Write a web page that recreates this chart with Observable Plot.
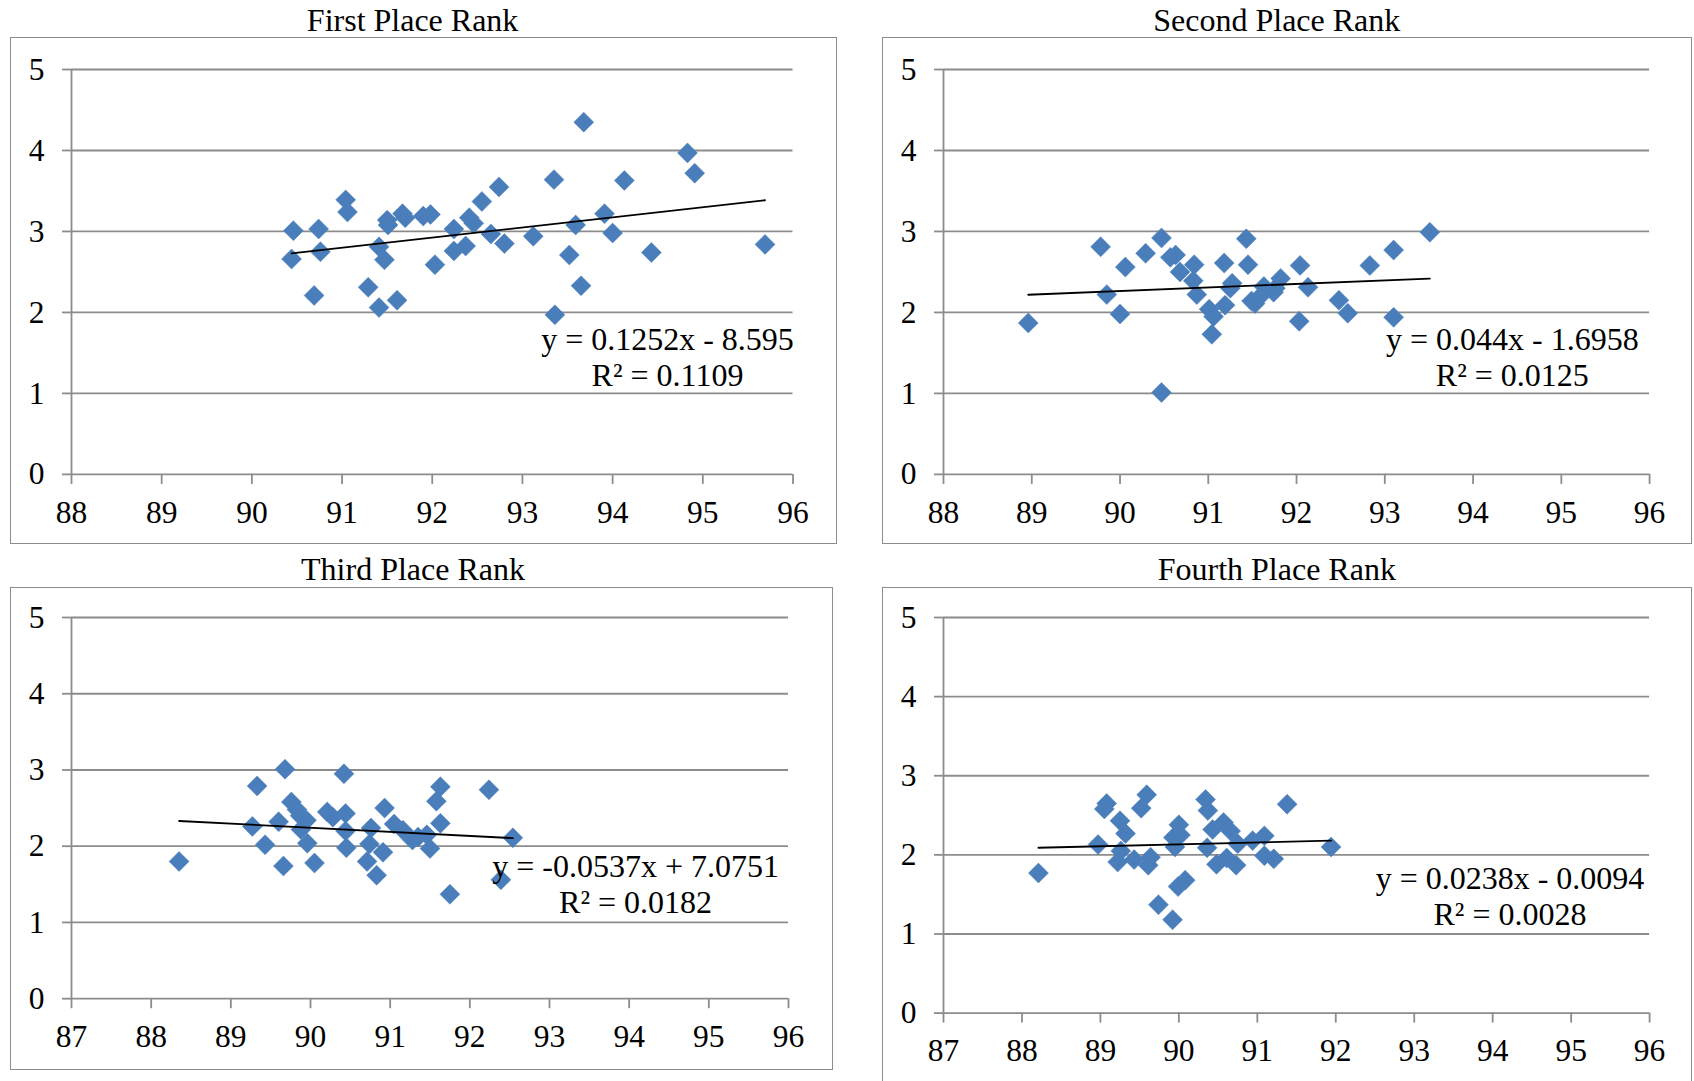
<!DOCTYPE html>
<html><head><meta charset="utf-8">
<script src="https://cdn.jsdelivr.net/npm/d3@7"></script>
<script src="https://cdn.jsdelivr.net/npm/@observablehq/plot@0.6"></script>
<style>
body{margin:0;background:#fff;}
#chart{position:relative;width:1694px;height:1081px;overflow:hidden;background:#fff;font-family:"Liberation Serif","Times New Roman",serif;color:#000;}
.frame{position:absolute;border:1.5px solid #8c8c8c;box-sizing:border-box;}
.txt{position:absolute;white-space:nowrap;font-size:32px;line-height:1;transform:translate(-50%,-50%);}
.panel{position:absolute;}
</style></head><body><div id="chart"></div>
<script>
// ---- data ----
const titles = ["First Place Rank", "Second Place Rank", "Third Place Rank", "Fourth Place Rank"];

const x1 = [90.46, 90.44, 90.69, 90.74, 90.76, 91.04, 91.06, 91.29, 91.41, 91.41, 91.47, 91.50, 91.51, 91.61, 91.67, 91.70, 91.90, 91.98, 92.03, 92.24, 92.24, 92.41, 92.37, 92.46, 92.55, 92.65, 92.74, 92.80, 93.12, 93.35, 93.36, 93.52, 93.59, 93.65, 93.68, 93.91, 94.00, 94.13, 94.43, 94.83, 94.91, 95.69];
const y1 = [3.01, 2.66, 2.21, 3.03, 2.75, 3.39, 3.24, 2.31, 2.81, 2.06, 2.65, 3.14, 3.08, 2.15, 3.22, 3.17, 3.19, 3.21, 2.59, 3.03, 2.76, 3.17, 2.82, 3.10, 3.37, 2.97, 3.55, 2.85, 2.94, 3.64, 1.97, 2.71, 3.08, 2.33, 4.35, 3.22, 2.98, 3.63, 2.74, 3.97, 3.72, 2.84];

const x2 = [88.96, 89.78, 89.85, 90.00, 90.06, 90.29, 90.47, 90.47, 90.57, 90.63, 90.68, 90.84, 90.83, 90.87, 91.01, 91.06, 91.04, 91.18, 91.19, 91.27, 91.25, 91.43, 91.45, 91.49, 91.53, 91.59, 91.63, 91.74, 91.76, 91.82, 92.04, 92.03, 92.13, 92.48, 92.58, 92.83, 93.10, 93.10, 93.51];
const y2 = [1.87, 2.81, 2.22, 1.98, 2.56, 2.73, 2.92, 1.01, 2.68, 2.71, 2.50, 2.59, 2.39, 2.22, 2.04, 1.95, 1.73, 2.61, 2.09, 2.36, 2.30, 2.91, 2.59, 2.14, 2.11, 2.20, 2.32, 2.25, 2.30, 2.42, 2.58, 1.89, 2.31, 2.15, 1.99, 2.58, 2.77, 1.94, 2.99];

const x3 = [88.35, 89.27, 89.33, 89.43, 89.60, 89.66, 89.68, 89.76, 89.83, 89.87, 89.88, 89.95, 89.96, 90.05, 90.21, 90.28, 90.42, 90.44, 90.44, 90.45, 90.76, 90.74, 90.71, 90.83, 90.91, 90.93, 91.05, 91.16, 91.28, 91.35, 91.46, 91.50, 91.58, 91.63, 91.63, 91.75, 92.24, 92.39, 92.54];
const y3 = [1.80, 2.26, 2.79, 2.02, 2.32, 1.74, 3.01, 2.58, 2.48, 2.40, 2.22, 2.34, 2.04, 1.78, 2.45, 2.38, 2.95, 2.43, 2.20, 1.98, 2.24, 2.03, 1.80, 1.62, 1.92, 2.50, 2.29, 2.21, 2.08, 2.12, 2.15, 1.97, 2.59, 2.78, 2.30, 1.37, 2.74, 1.56, 2.11];

const x4 = [88.21, 88.97, 89.05, 89.08, 89.25, 89.32, 89.22, 89.26, 89.43, 89.52, 89.59, 89.61, 89.64, 89.74, 89.92, 89.93, 89.95, 90.00, 89.99, 90.08, 90.02, 90.34, 90.37, 90.36, 90.43, 90.48, 90.57, 90.61, 90.66, 90.73, 90.75, 90.94, 91.09, 91.09, 91.21, 91.38, 91.94];
const y4 = [1.77, 2.13, 2.58, 2.65, 2.43, 2.27, 1.91, 2.05, 1.94, 2.59, 2.76, 1.87, 1.97, 1.37, 1.18, 2.22, 2.10, 2.38, 1.60, 1.68, 2.25, 2.70, 2.56, 2.09, 2.32, 1.88, 2.41, 1.96, 2.30, 1.87, 2.14, 2.18, 2.24, 1.99, 1.95, 2.64, 2.10];

const slopes = [0.1252, 0.044, -0.0537, 0.0238];
const intercepts = [-8.595, -1.6958, 7.0751, -0.0094];
const equationLabels = ["y = 0.1252x - 8.595", "y = 0.044x - 1.6958", "y = -0.0537x + 7.0751", "y = 0.0238x - 0.0094"];
const r2Labels = ["R² = 0.1109", "R² = 0.0125", "R² = 0.0182", "R² = 0.0028"];

const xTicksTop = [88, 89, 90, 91, 92, 93, 94, 95, 96];
const xTicksBottom = [87, 88, 89, 90, 91, 92, 93, 94, 95, 96];
const yTicks = [0, 1, 2, 3, 4, 5];

// ---- layout (pixels) ----
const layout = [
  {frame: [10, 37, 837, 544],  plot: [70.5, 792, 68.5, 473.4],   title: [412.6, 19.8], eq: [667.5, 339, 375]},
  {frame: [882, 37, 1692, 544], plot: [942.6, 1648.7, 68.5, 473.4], title: [1276.8, 19.8], eq: [1512.3, 339, 375]},
  {frame: [10, 587, 833, 1070], plot: [70.5, 787.5, 617.1, 998.3], title: [413, 569], eq: [635.6, 866.4, 902.3]},
  {frame: [882, 587, 1692, 1100], plot: [942.6, 1648.7, 617.1, 1012.7], title: [1276.8, 569], eq: [1510, 878.3, 913.5]}
];

const xs = [x1, x2, x3, x4];
const ys = [y1, y2, y3, y4];
const xTickSets = [xTicksTop, xTicksTop, xTicksBottom, xTicksBottom];

const chart = document.getElementById("chart");
const GRID = "#8c8c8c";
const SERIF = "Times New Roman, Liberation Serif, serif";
const ml = 60, mr = 40, mt = 30, mb = 60;
const fmt = d3.format("d");

for (let i = 0; i < 4; i++) {
  const L = layout[i];
  const f = document.createElement("div");
  f.className = "frame";
  f.style.left = L.frame[0] + "px"; f.style.top = L.frame[1] + "px";
  f.style.width = (L.frame[2] - L.frame[0]) + "px"; f.style.height = (L.frame[3] - L.frame[1]) + "px";
  chart.appendChild(f);

  const data = xs[i].map((x, k) => ({x, y: ys[i][k]}));
  const [xmin, xmax] = d3.extent(xs[i]);
  const trend = [xmin, xmax].map(x => ({x, y: slopes[i] * x + intercepts[i]}));
  const ticks = xTickSets[i];

  const w = L.plot[1] - L.plot[0] + ml + mr;
  const h = L.plot[3] - L.plot[2] + mt + mb;
  const svg = Plot.plot({
    width: w, height: h,
    marginLeft: ml, marginRight: mr, marginTop: mt, marginBottom: mb,
    style: {fontFamily: SERIF, fontSize: "31.5px", color: "#000", background: "transparent", overflow: "visible"},
    x: {domain: [ticks[0], ticks[ticks.length - 1]]},
    y: {domain: [0, 5]},
    marks: [
      Plot.ruleY(yTicks, {stroke: GRID, strokeWidth: 1.8}),
      Plot.ruleX([ticks[0]], {stroke: GRID, strokeWidth: 1.8}),
      Plot.axisY(yTicks, {tickSize: 9, tickPadding: 18, stroke: GRID, strokeWidth: 1.8, label: null, fill: "#000", tickFormat: fmt, fontFamily: SERIF, fontSize: 31.5, fontVariant: "normal"}),
      Plot.axisX(ticks, {tickSize: 10, tickPadding: 16, stroke: GRID, strokeWidth: 1.8, label: null, fill: "#000", tickFormat: fmt, fontFamily: SERIF, fontSize: 31.5, fontVariant: "normal"}),
      Plot.dot(data, {x: "x", y: "y", symbol: "diamond2", r: 9, fill: "#4a7ebb", stroke: "#4f81bd", strokeWidth: 0.5}),
      Plot.line(trend, {x: "x", y: "y", stroke: "#000", strokeWidth: 1.8})
    ]
  });
  const wrap = document.createElement("div");
  wrap.className = "panel";
  wrap.style.left = (L.plot[0] - ml) + "px";
  wrap.style.top = (L.plot[2] - mt) + "px";
  wrap.appendChild(svg);
  chart.appendChild(wrap);

  const t = document.createElement("div");
  t.className = "txt"; t.textContent = titles[i];
  t.style.left = L.title[0] + "px"; t.style.top = L.title[1] + "px";
  chart.appendChild(t);

  const e1 = document.createElement("div");
  e1.className = "txt"; e1.textContent = equationLabels[i];
  e1.style.left = L.eq[0] + "px"; e1.style.top = L.eq[1] + "px";
  chart.appendChild(e1);
  const e2 = document.createElement("div");
  e2.className = "txt"; e2.textContent = r2Labels[i];
  e2.style.left = L.eq[0] + "px"; e2.style.top = L.eq[2] + "px";
  chart.appendChild(e2);
}
</script></body></html>
